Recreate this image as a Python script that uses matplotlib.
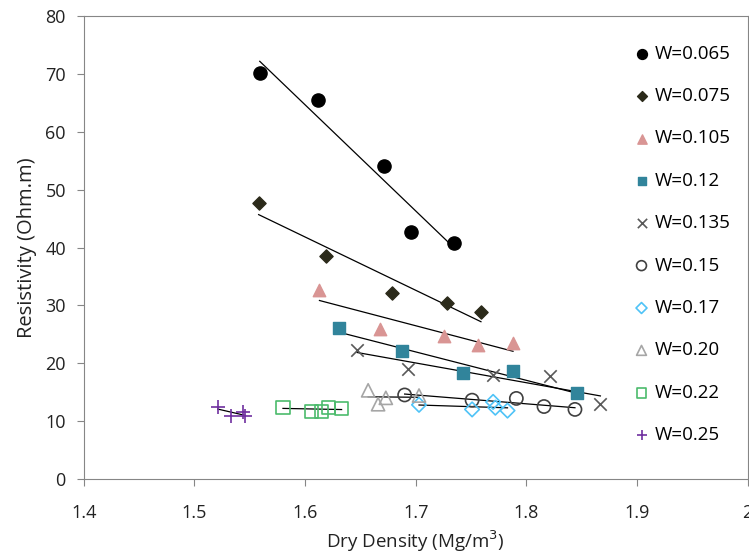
import numpy as np
import matplotlib.pyplot as plt

plt.rcParams['font.family'] = ['Open Sans', 'DejaVu Sans']

# dry density (Mg/m3) and resistivity (Ohm.m) per water content
labels = ["W=0.065", "W=0.075", "W=0.105", "W=0.12", "W=0.135",
          "W=0.15", "W=0.17", "W=0.20", "W=0.22", "W=0.25"]

x065 = [1.559, 1.612, 1.671, 1.696, 1.735]
y065 = [70.1, 65.6, 54.1, 42.7, 40.8]
x075 = [1.558, 1.619, 1.679, 1.728, 1.759]
y075 = [47.7, 38.5, 32.1, 30.4, 28.8]
x105 = [1.613, 1.668, 1.726, 1.756, 1.788]
y105 = [32.6, 25.9, 24.7, 23.1, 23.5]
x12 = [1.631, 1.688, 1.743, 1.788, 1.846]
y12 = [26.1, 22.1, 18.3, 18.7, 14.9]
x135 = [1.647, 1.693, 1.770, 1.821, 1.867]
y135 = [22.3, 19.0, 18.0, 17.8, 12.9]
x15 = [1.690, 1.751, 1.791, 1.816, 1.844]
y15 = [14.5, 13.6, 13.9, 12.5, 12.0]
x17 = [1.703, 1.751, 1.770, 1.772, 1.783]
y17 = [12.8, 12.0, 13.3, 12.3, 11.8]
x20 = [1.657, 1.666, 1.673, 1.703]
y20 = [15.3, 12.9, 14.0, 14.4]
x22 = [1.580, 1.606, 1.615, 1.621, 1.633]
y22 = [12.4, 11.7, 11.7, 12.4, 12.1]
x25 = [1.521, 1.533, 1.544, 1.546]
y25 = [12.4, 10.8, 11.6, 10.8]

xs = [x065, x075, x105, x12, x135, x15, x17, x20, x22, x25]
ys = [y065, y075, y105, y12, y135, y15, y17, y20, y22, y25]

styles = [
    dict(marker='o', color='black', s=90),
    dict(marker='D', color='#2b2a1a', s=45),
    dict(marker='^', color='#d99594', s=80),
    dict(marker='s', color='#31849b', s=70),
    dict(marker='x', color='#595959', s=80, linewidths=1.2),
    dict(marker='o', facecolors='none', edgecolors='#404040', s=90, linewidths=1.2),
    dict(marker='D', facecolors='none', edgecolors='#4fc3f7', s=55, linewidths=1.2),
    dict(marker='^', facecolors='none', edgecolors='#a6a6a6', s=90, linewidths=1.2),
    dict(marker='s', facecolors='none', edgecolors='#4cbb6c', s=90, linewidths=1.2),
    dict(marker='+', color='#7030a0', s=90, linewidths=1.2),
]

fig = plt.figure(figsize=(7.49, 5.60), dpi=100)
ax = fig.add_axes([0.112, 0.145, 0.886, 0.826])

for x, y, lab, st in zip(xs, ys, labels, styles):
    ax.scatter(x, y, label=lab, zorder=3, **st)
    k, b = np.polyfit(x, y, 1)
    xx = np.array([min(x), max(x)])
    ax.plot(xx, k * xx + b, color='black', lw=0.9, zorder=2)

ax.set_xlim(1.4, 2.0)
ax.set_ylim(0, 80)
ax.set_xticks([1.4, 1.5, 1.6, 1.7, 1.8, 1.9, 2.0])
ax.set_xticklabels(["1.4", "1.5", "1.6", "1.7", "1.8", "1.9", "2"])
ax.set_yticks(range(0, 81, 10))
for sp in ax.spines.values():
    sp.set_color('#868686')
ax.tick_params(colors='#868686', labelcolor='#222222', labelsize=13, length=5)
ax.tick_params(axis='x', pad=13)
ax.tick_params(axis='y', pad=8)
ax.set_xlabel("Dry Density (Mg/m$^3$)", fontsize=13.5, labelpad=5, color='#222222')
ax.set_ylabel("Resistivity (Ohm.m)", fontsize=14.5, labelpad=6, color='#222222')

ax.legend(loc='upper right', bbox_to_anchor=(1.0, 0.975), frameon=False,
          fontsize=13.5, handletextpad=0.1, labelspacing=1.3,
          markerscale=0.75, handlelength=1.2)

fig.savefig("out.png")
